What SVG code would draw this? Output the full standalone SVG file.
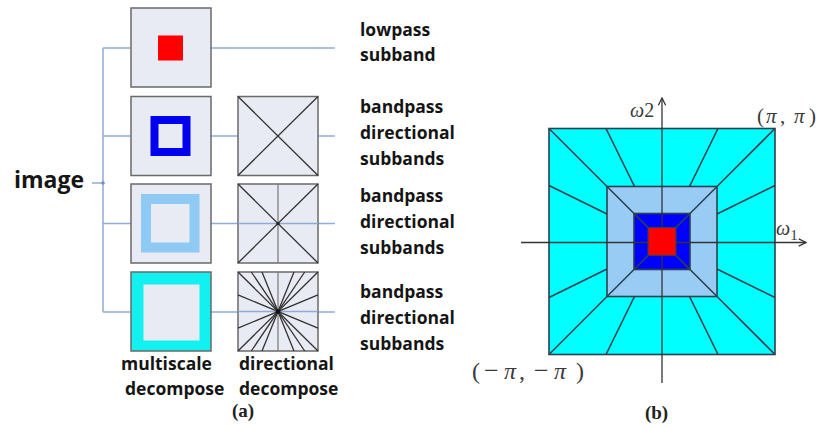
<svg xmlns="http://www.w3.org/2000/svg" width="822" height="428" viewBox="0 0 822 428">
<style>
.lbl{font-family:"Open Sans","DejaVu Sans",sans-serif;font-weight:bold;font-size:17.5px;fill:#151515}
.cap{font-family:"Liberation Serif","Times New Roman",serif;font-weight:bold;font-size:19px;fill:#222}
.math{font-family:"Liberation Serif","Times New Roman",serif;font-style:italic;fill:#3a3a3a}
.mrm{font-family:"Liberation Serif","Times New Roman",serif;fill:#3a3a3a}
.box{fill:#e8ebf3;stroke:#6a6a6a;stroke-width:1.5}
.conn{stroke:#8fabd6;stroke-width:1.5;fill:none}
.dl{stroke:#333;stroke-width:1.3}
.dg{stroke:#777;stroke-width:1.2}
.sq{stroke:#2c4050;stroke-width:1.6}
.ax{stroke:#333;stroke-width:1.3;fill:none}
</style>
<defs>
<marker id="arr" viewBox="0 0 10 10" refX="9" refY="5" markerWidth="7" markerHeight="7" orient="auto">
<path d="M1,1 L9,5 L1,9" fill="none" stroke="#333" stroke-width="1.4"/>
</marker>
</defs>
<rect width="822" height="428" fill="#fff"/>

<g id="connectors">
<line class="conn" x1="103" y1="48" x2="103" y2="312"/>
<line class="conn" x1="92" y1="183" x2="103" y2="183"/>
<circle cx="103" cy="183" r="1.8" fill="#6f8fc0"/>
<line class="conn" x1="103" y1="48" x2="131" y2="48"/>
<line class="conn" x1="211" y1="48" x2="335" y2="48"/>
<line class="conn" x1="103" y1="136" x2="131" y2="136"/>
<line class="conn" x1="211" y1="136" x2="238" y2="136"/>
<line class="conn" x1="318" y1="136" x2="335" y2="136"/>
<line class="conn" x1="103" y1="223.5" x2="131" y2="223.5"/>
<line class="conn" x1="211" y1="223.5" x2="335" y2="223.5"/>
<line class="conn" x1="103" y1="312" x2="131" y2="312"/>
<line class="conn" x1="211" y1="312" x2="335" y2="312"/>
</g>

<g id="image-label">
<text x="14" y="188" font-family="'Open Sans','DejaVu Sans',sans-serif" font-weight="bold" font-size="23" fill="#151515">image</text>
</g>

<g id="ms1">
<rect class="box" x="131" y="8" width="80" height="79"/>
<rect x="158" y="35.5" width="25" height="25" fill="#ff0000"/>
</g>
<g id="ms2">
<rect class="box" x="131" y="96.5" width="80" height="79"/>
<rect x="154.5" y="120" width="32" height="32" fill="none" stroke="#0000ee" stroke-width="8"/>
</g>
<g id="ms3">
<rect class="box" x="131" y="184" width="80" height="79"/>
<rect x="146" y="199" width="48.5" height="48.5" fill="none" stroke="#8fcaf5" stroke-width="10"/>
</g>
<g id="ms4">
<rect x="131" y="272" width="80" height="79" fill="#12f0f0" stroke="#6a6a6a" stroke-width="1.5"/>
<rect x="143.5" y="284.5" width="56" height="56" fill="#e8ebf3"/>
</g>

<g id="dir2">
<rect class="box" x="238" y="96.5" width="80" height="79"/>
<line class="dl" x1="238" y1="96.5" x2="318" y2="175.5"/>
<line class="dl" x1="318" y1="96.5" x2="238" y2="175.5"/>
</g>
<g id="dir3">
<rect class="box" x="238" y="184" width="80" height="79"/>
<line class="conn" x1="238" y1="223.5" x2="318" y2="223.5"/>
<line class="dl" x1="238" y1="184" x2="318" y2="263"/>
<line class="dl" x1="318" y1="184" x2="238" y2="263"/>
<line class="dg" x1="278" y1="184" x2="278" y2="263"/>
<circle cx="278" cy="223.5" r="1.6" fill="#222"/>
</g>
<g id="dir4">
<rect class="box" x="238" y="272" width="80" height="79"/>
<line class="conn" x1="238" y1="311.5" x2="318" y2="311.5"/>
<line class="dg" x1="278" y1="272" x2="278" y2="351"/>
<line class="dl" x1="238" y1="272" x2="318" y2="351"/>
<line class="dl" x1="251.3" y1="272" x2="304.7" y2="351"/>
<line class="dl" x1="262" y1="272" x2="294" y2="351"/>
<line class="dl" x1="294" y1="272" x2="262" y2="351"/>
<line class="dl" x1="304.7" y1="272" x2="251.3" y2="351"/>
<line class="dl" x1="318" y1="272" x2="238" y2="351"/>
<line class="dl" x1="238" y1="294.9" x2="318" y2="328.1"/>
<line class="dl" x1="238" y1="328.1" x2="318" y2="294.9"/>
<circle cx="278" cy="311.5" r="2.2" fill="#111"/>
</g>

<g id="labels-right">
<text class="lbl" x="360" y="36">lowpass</text>
<text class="lbl" x="360" y="61">subband</text>
<text class="lbl" x="360" y="113">bandpass</text>
<text class="lbl" x="360" y="139">directional</text>
<text class="lbl" x="360" y="164.5">subbands</text>
<text class="lbl" x="360" y="202">bandpass</text>
<text class="lbl" x="360" y="228">directional</text>
<text class="lbl" x="360" y="253.5">subbands</text>
<text class="lbl" x="360" y="298">bandpass</text>
<text class="lbl" x="360" y="323.5">directional</text>
<text class="lbl" x="360" y="349.5">subbands</text>
</g>
<g id="labels-bottom">
<text class="lbl" x="121" y="369.5">multiscale</text>
<text class="lbl" x="125" y="394.5">decompose</text>
<text class="lbl" x="239" y="369.5">directional</text>
<text class="lbl" x="239" y="394.5">decompose</text>
<text class="cap" x="243" y="417" text-anchor="middle">(a)</text>
</g>

<g id="freq-plane">
<rect class="sq" x="549" y="128.5" width="226" height="226" fill="#00ffff"/>
<line class="sq" x1="549" y1="128.5" x2="607" y2="186.5"/>
<line class="sq" x1="775" y1="128.5" x2="717" y2="186.5"/>
<line class="sq" x1="549" y1="354.5" x2="607" y2="296.5"/>
<line class="sq" x1="775" y1="354.5" x2="717" y2="296.5"/>
<line class="sq" x1="606" y1="128.5" x2="634.5" y2="186.5"/>
<line class="sq" x1="718" y1="128.5" x2="689.5" y2="186.5"/>
<line class="sq" x1="606" y1="354.5" x2="634.5" y2="296.5"/>
<line class="sq" x1="718" y1="354.5" x2="689.5" y2="296.5"/>
<line class="sq" x1="549" y1="185.5" x2="607" y2="214"/>
<line class="sq" x1="549" y1="297.5" x2="607" y2="269"/>
<line class="sq" x1="775" y1="185.5" x2="717" y2="214"/>
<line class="sq" x1="775" y1="297.5" x2="717" y2="269"/>
<rect class="sq" x="607" y="186.5" width="110" height="110" fill="#99ccf5"/>
<line class="sq" x1="607" y1="186.5" x2="634" y2="213.5"/>
<line class="sq" x1="717" y1="186.5" x2="690" y2="213.5"/>
<line class="sq" x1="607" y1="296.5" x2="634" y2="269.5"/>
<line class="sq" x1="717" y1="296.5" x2="690" y2="269.5"/>
<rect class="sq" x="634" y="213.5" width="56" height="56" fill="#0000ff"/>
<line class="sq" x1="634" y1="213.5" x2="648" y2="227.5"/>
<line class="sq" x1="690" y1="213.5" x2="676" y2="227.5"/>
<line class="sq" x1="634" y1="269.5" x2="648" y2="255.5"/>
<line class="sq" x1="690" y1="269.5" x2="676" y2="255.5"/>
<line class="ax" x1="521" y1="242.5" x2="806" y2="242.5" marker-end="url(#arr)"/>
<line class="ax" x1="662" y1="383" x2="662" y2="98" marker-end="url(#arr)"/>
<rect x="648" y="227.5" width="28" height="28" fill="#ff0000" stroke="#2c4050" stroke-width="1.2"/>
<text class="math" x="630" y="117" font-size="20">ω<tspan font-style="normal">2</tspan></text>
<text class="math" x="776" y="235" font-size="20">ω<tspan font-style="normal" font-size="15" dy="5">1</tspan></text>
<text class="mrm" font-size="21" y="123"><tspan x="757">(</tspan><tspan x="766" font-style="italic">π</tspan><tspan x="780">,</tspan><tspan x="794" font-style="italic">π</tspan><tspan x="809">)</tspan></text>
<text class="mrm" font-size="24" y="379"><tspan x="472">(</tspan><tspan x="484" font-size="26">−</tspan><tspan x="504" font-style="italic">π</tspan><tspan x="519">,</tspan><tspan x="534" font-size="26">−</tspan><tspan x="554" font-style="italic">π</tspan><tspan x="576">)</tspan></text>
<text class="cap" x="656.5" y="419" text-anchor="middle">(b)</text>
</g>
</svg>
